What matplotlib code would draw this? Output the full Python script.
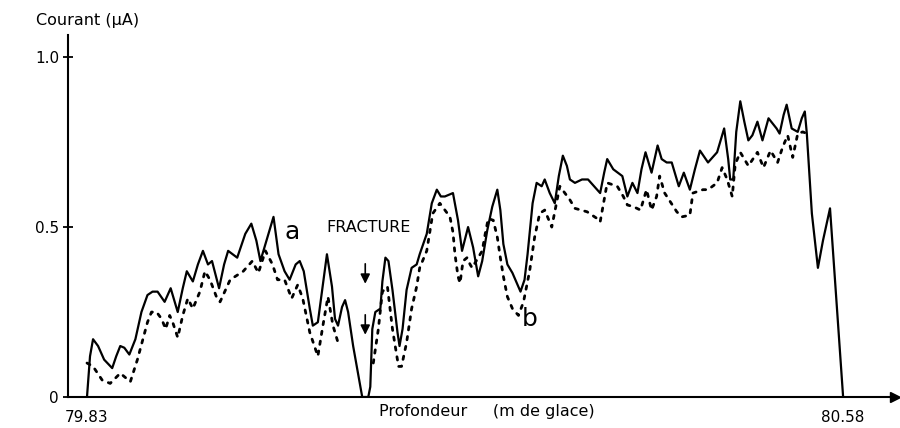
# courant le long de la carotte, autour de la fracture
import matplotlib.pyplot as plt
import numpy as np

plt.rcParams['font.family'] = 'DejaVu Sans'
plt.rcParams['font.size'] = 11
plt.rcParams['axes.linewidth'] = 1.5

# courbe a (trait plein)
depth_a = [79.830, 79.833, 79.836, 79.841, 79.847, 79.855, 79.859, 79.863, 79.867, 79.872,
           79.878, 79.884, 79.890, 79.895, 79.900, 79.907, 79.913, 79.920, 79.925, 79.929,
           79.935, 79.940, 79.945, 79.950, 79.954, 79.961, 79.966, 79.970, 79.979, 79.987,
           79.993, 79.998, 80.002, 80.008, 80.015, 80.020, 80.026, 80.031, 80.037, 80.041,
           80.045, 80.051, 80.054, 80.059, 80.064, 80.068, 80.073, 80.076, 80.079, 80.083,
           80.086, 80.089, 80.094, 80.103, 80.109, 80.111, 80.113, 80.116, 80.121, 80.123,
           80.126, 80.129, 80.133, 80.138, 80.140, 80.143, 80.147, 80.152, 80.157, 80.160,
           80.167, 80.172, 80.177, 80.181, 80.185, 80.193, 80.198, 80.202, 80.208, 80.213,
           80.218, 80.222, 80.227, 80.232, 80.237, 80.240, 80.243, 80.247, 80.252, 80.260,
           80.264, 80.267, 80.272, 80.276, 80.281, 80.284, 80.289, 80.294, 80.298, 80.302,
           80.306, 80.309, 80.314, 80.321, 80.327, 80.333, 80.339, 80.343, 80.346, 80.352,
           80.361, 80.366, 80.371, 80.376, 80.380, 80.384, 80.390, 80.396, 80.400, 80.405,
           80.410, 80.417, 80.422, 80.428, 80.433, 80.438, 80.446, 80.455, 80.462, 80.466,
           80.468, 80.471, 80.474, 80.478, 80.482, 80.486, 80.490, 80.495, 80.500, 80.506,
           80.514, 80.517, 80.521, 80.524, 80.529, 80.535, 80.539, 80.542, 80.544, 80.549,
           80.555, 80.560, 80.567, 80.580]
current_a = [0.0, 0.12, 0.17, 0.15, 0.11, 0.085, 0.12, 0.15, 0.145, 0.125,
             0.17, 0.25, 0.30, 0.31, 0.31, 0.28, 0.32, 0.25, 0.32, 0.37,
             0.34, 0.39, 0.43, 0.39, 0.40, 0.32, 0.39, 0.43, 0.41, 0.48,
             0.51, 0.46, 0.40, 0.46, 0.53, 0.42, 0.37, 0.345, 0.39, 0.40,
             0.37, 0.26, 0.21, 0.22, 0.33, 0.42, 0.325, 0.23, 0.21, 0.265,
             0.285, 0.25, 0.15, 0.0, 0.0, 0.03, 0.20, 0.25, 0.26, 0.34,
             0.41, 0.40, 0.315, 0.19, 0.15, 0.20, 0.315, 0.38, 0.39, 0.42,
             0.48, 0.57, 0.61, 0.59, 0.59, 0.60, 0.52, 0.43, 0.50, 0.44,
             0.355, 0.40, 0.49, 0.56, 0.61, 0.55, 0.45, 0.39, 0.365, 0.31,
             0.345, 0.42, 0.57, 0.63, 0.62, 0.64, 0.60, 0.57, 0.65, 0.71,
             0.68, 0.64, 0.63, 0.64, 0.64, 0.62, 0.60, 0.66, 0.70, 0.67,
             0.65, 0.59, 0.63, 0.60, 0.67, 0.72, 0.66, 0.74, 0.70, 0.69,
             0.69, 0.62, 0.66, 0.61, 0.67, 0.725, 0.69, 0.72, 0.79, 0.70,
             0.64, 0.64, 0.78, 0.87, 0.81, 0.755, 0.77, 0.81, 0.755, 0.82,
             0.79, 0.775, 0.83, 0.86, 0.79, 0.78, 0.82, 0.84, 0.775, 0.54,
             0.38, 0.46, 0.555, 0.0]

# courbe b (pointilles), interrompue a la fracture
depth_b = [79.830, 79.836, 79.845, 79.853, 79.863, 79.873, 79.880, 79.890, 79.894, 79.899,
           79.904, 79.908, 79.912, 79.915, 79.920, 79.925, 79.930, 79.935, 79.942, 79.947,
           79.952, 79.959, 79.962, 79.972, 79.985, 79.994, 80.000, 80.007, 80.014, 80.019,
           80.026, 80.033, 80.039, 80.044, 80.051, 80.059, 80.064, 80.069, 80.074, 80.079,
           80.095, 80.114, 80.119, 80.123, 80.128, 80.131, 80.133, 80.139, 80.142, 80.147,
           80.152, 80.157, 80.160, 80.167, 80.173, 80.180, 80.190, 80.193, 80.195, 80.198,
           80.200, 80.203, 80.207, 80.210, 80.212, 80.222, 80.225, 80.228, 80.233, 80.237,
           80.240, 80.243, 80.247, 80.252, 80.258, 80.263, 80.269, 80.274, 80.279, 80.284,
           80.291, 80.299, 80.309, 80.314, 80.326, 80.336, 80.339, 80.346, 80.356, 80.362,
           80.366, 80.372, 80.379, 80.385, 80.390, 80.395, 80.398, 80.403, 80.415, 80.420,
           80.428, 80.431, 80.441, 80.446, 80.455, 80.460, 80.465, 80.470, 80.473, 80.478,
           80.486, 80.495, 80.501, 80.508, 80.515, 80.520, 80.525, 80.530, 80.535, 80.540,
           80.544]
current_b = [0.10, 0.09, 0.05, 0.04, 0.07, 0.045, 0.11, 0.22, 0.25, 0.25,
             0.23, 0.20, 0.24, 0.22, 0.175, 0.24, 0.29, 0.26, 0.31, 0.37,
             0.345, 0.29, 0.28, 0.345, 0.37, 0.40, 0.365, 0.43, 0.39, 0.345,
             0.345, 0.29, 0.33, 0.29, 0.19, 0.12, 0.21, 0.295, 0.21, 0.16,
             np.nan, 0.10, 0.20, 0.31, 0.325, 0.25, 0.20, 0.09, 0.09, 0.16,
             0.26, 0.325, 0.38, 0.43, 0.54, 0.57, 0.53, 0.485, 0.42, 0.355,
             0.335, 0.40, 0.41, 0.39, 0.38, 0.43, 0.48, 0.525, 0.52, 0.47,
             0.41, 0.355, 0.295, 0.26, 0.24, 0.28, 0.37, 0.47, 0.54, 0.55,
             0.50, 0.62, 0.58, 0.555, 0.545, 0.525, 0.515, 0.63, 0.62, 0.59,
             0.565, 0.56, 0.55, 0.61, 0.55, 0.59, 0.65, 0.60, 0.545, 0.53,
             0.535, 0.60, 0.61, 0.61, 0.63, 0.675, 0.64, 0.59, 0.685, 0.72,
             0.68, 0.72, 0.675, 0.725, 0.69, 0.735, 0.77, 0.705, 0.775, 0.78,
             0.775]

y_ticks = [0, 0.5, 1.0]
y_ticklabels = ['0', '0.5', '1.0']
x_ticks = [79.83, 80.58]
x_ticklabels = ['79.83', '80.58']

fig = plt.figure(figsize=(9, 4.28), dpi=100)
ax = fig.add_axes([0.0756, 0.0724, 0.919, 0.8458])

ax.plot(depth_a, current_a, color='k', lw=1.6)
ax.plot(depth_b, current_b, color='k', lw=2.0, linestyle=(0, (1.2, 2.4)), dash_capstyle='round')

ax.set_xlim(79.8112, 80.6316)
ax.set_ylim(0, 1.065)

# axes en fleches, sans cadre
ax.spines['top'].set_visible(False)
ax.spines['right'].set_visible(False)
ax.plot(1, 0, marker='>', color='k', ms=7, transform=ax.get_yaxis_transform(), clip_on=False)
ax.plot(0, 1, marker='^', mfc='white', mec='k', mew=1.3, ms=8, transform=ax.get_xaxis_transform(), clip_on=False)

ax.set_yticks(y_ticks)
ax.set_yticklabels(y_ticklabels)
ax.tick_params(axis='y', direction='inout', length=7, width=1.3, pad=3, labelsize=11)
ax.set_xticks(x_ticks)
ax.set_xticklabels(x_ticklabels)
ax.tick_params(axis='x', length=0, pad=9, labelsize=11)

ax.set_xlabel('Profondeur     (m de glace)', fontsize=11.5)
ax.xaxis.set_label_coords(0.506, -0.02)
ax.set_ylabel('Courant (μA)', rotation=0, ha='left', va='center', fontsize=11.5)
ax.yaxis.set_label_coords(-0.0387, 1.041)

# reperes
ax.text(80.033, 0.485, 'a', fontsize=18, ha='center', va='center')
ax.text(80.269, 0.23, 'b', fontsize=18, ha='center', va='center')
ax.text(80.109, 0.50, 'FRACTURE', fontsize=11.5, ha='center', va='center')
for y0, y1 in [(0.40, 0.325), (0.25, 0.175)]:
    ax.annotate('', xy=(80.106, y1), xytext=(80.106, y0),
                arrowprops=dict(arrowstyle='-|>', color='k', lw=1.2, mutation_scale=14))

plt.savefig('out.png', dpi=100)
